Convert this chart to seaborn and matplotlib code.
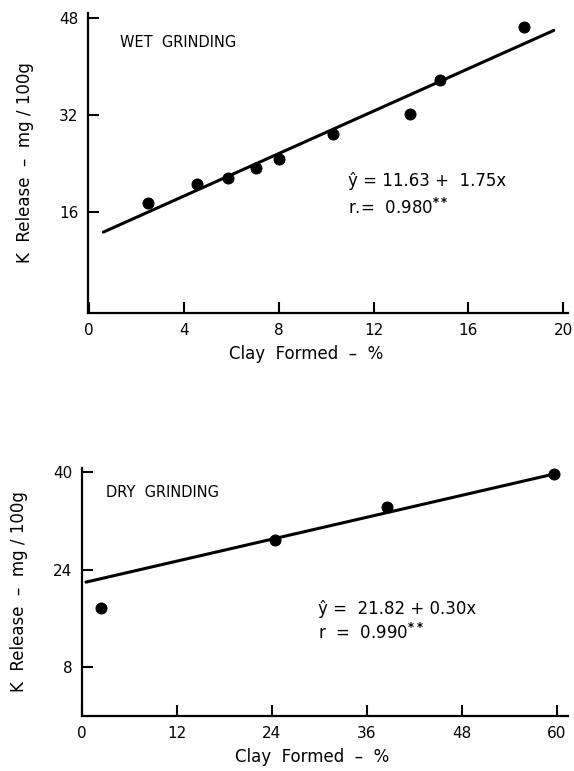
import matplotlib
matplotlib.use("Agg")
import numpy as np
import pandas as pd
import seaborn as sns
import matplotlib.pyplot as plt

# wet grinding data
wet_clay = [2.5, 4.55, 5.85, 7.05, 8.0, 10.3, 13.55, 14.8, 18.35]
wet_k = [17.5, 20.6, 21.6, 23.3, 24.7, 28.9, 32.2, 37.8, 46.5]
wet_intercept, wet_slope = 11.63, 1.75
wet_line_x = [0.6, 19.6]
wet_xticks = [0, 4, 8, 12, 16, 20]
wet_yticks = [16, 32, 48]

# dry grinding data
dry_clay = [2.4, 24.4, 38.5, 59.6]
dry_k = [17.7, 28.9, 34.3, 39.7]
dry_intercept, dry_slope = 21.82, 0.30
dry_line_x = [0.5, 60.0]
dry_xticks = [0, 12, 24, 36, 48, 60]
dry_yticks = [8, 24, 40]

sns.set_style("ticks")
plt.rcParams['font.family'] = ['DejaVu Sans']
plt.rcParams['text.color'] = 'black'
plt.rcParams['axes.labelcolor'] = 'black'

fig = plt.figure(figsize=(5.74, 7.71), dpi=100)
ax1 = fig.add_axes([88 / 574, 1 - 313 / 771, 480 / 574, 300 / 771])
ax2 = fig.add_axes([82 / 574, 1 - 716 / 771, 486 / 574, 248 / 771])


def panel(ax, clay, k, b0, b1, line_x, xticks, yticks, xlim, ylim, title, eq, rtxt,
          title_pos, eq_pos, xlab_x):
    pts = pd.DataFrame({"clay": clay, "k": k})
    lx = np.array(line_x)
    line = pd.DataFrame({"clay": lx, "k": b0 + b1 * lx})
    sns.lineplot(data=line, x="clay", y="k", ax=ax, color="black", linewidth=2.2)
    sns.scatterplot(data=pts, x="clay", y="k", ax=ax, color="black", s=64, edgecolor="black", zorder=3)
    ax.set_xlim(*xlim)
    ax.set_ylim(*ylim)
    ax.set_xticks(xticks)
    ax.set_yticks(yticks)
    ax.tick_params(direction="in", length=8, width=1.5, labelsize=11, pad=7, colors="black")
    for s in ["left", "bottom"]:
        ax.spines[s].set_linewidth(1.6)
        ax.spines[s].set_color("black")
    sns.despine(ax=ax)
    ax.set_xlabel("Clay  Formed  –  %", fontsize=12, labelpad=5)
    ax.xaxis.label.set_x(xlab_x)
    ax.set_ylabel("K  Release  –  mg / 100g", fontsize=12, labelpad=18)
    ax.text(title_pos[0], title_pos[1], title, fontsize=10.5, va="center", ha="left")
    ax.text(eq_pos[0], eq_pos[1], eq, fontsize=12, va="center", ha="left", transform=ax.transAxes)
    ax.text(eq_pos[0], eq_pos[2], rtxt, fontsize=12, va="center", ha="left", transform=ax.transAxes)


panel(ax1, wet_clay, wet_k, wet_intercept, wet_slope, wet_line_x, wet_xticks, wet_yticks,
      (-0.05, 20.2), (-0.66, 48.8), "WET  GRINDING",
      "ŷ = 11.63 +  1.75x", r"r.=  0.980$^{\mathbf{**}}$", (1.3, 43.9),
      ((348 - 88) / 480, (313 - 181) / 300, (313 - 208) / 300), 0.454)
panel(ax2, dry_clay, dry_k, dry_intercept, dry_slope, dry_line_x, dry_xticks, dry_yticks,
      (0, 61.4), (0, 40.7), "DRY  GRINDING",
      "ŷ =  21.82 + 0.30x", r"r  =  0.990$^{\mathbf{**}}$", (3.0, 36.6),
      ((318 - 82) / 486, (716 - 609) / 248, (716 - 633) / 248), 0.473)

fig.savefig("out.png", dpi=100)
